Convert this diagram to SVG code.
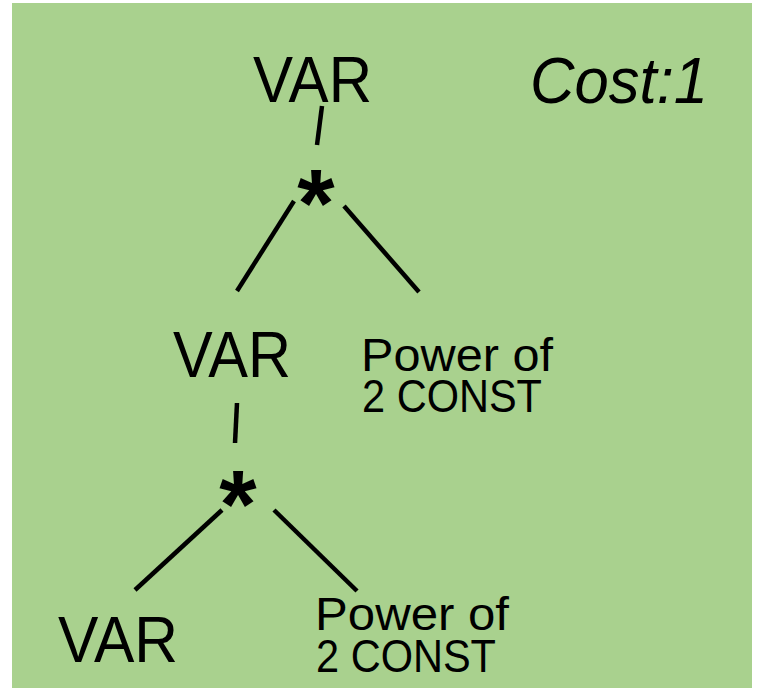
<svg xmlns="http://www.w3.org/2000/svg" width="757" height="689" viewBox="0 0 757 689">
<style>
.t{font-family:"Liberation Sans",Arial,sans-serif;fill:#000}
.var{font-size:65px}
.op{font-size:96px;font-weight:bold}
.pc{font-size:46px}
.cost{font-size:64px;font-style:italic}
.c line{stroke:#000;stroke-width:4.5;stroke-linecap:butt}
</style>
<rect x="12" y="3" width="740" height="685" fill="#A9D18E"/>
<g id="connectors" class="c">
<line x1="322" y1="106" x2="317" y2="145"/>
<line x1="294" y1="201" x2="237" y2="291"/>
<line x1="344" y1="206" x2="419" y2="292"/>
<line x1="237" y1="403" x2="235" y2="443"/>
<line x1="222" y1="510" x2="135" y2="590"/>
<line x1="274" y1="510" x2="357" y2="591"/>
</g>
<g id="var-top"><text class="t var" x="253" y="102" textLength="119" lengthAdjust="spacingAndGlyphs">VAR</text></g>
<g id="mul-top"><text class="t op" x="316" y="236" text-anchor="middle">*</text></g>
<g id="var-mid"><text class="t var" x="173" y="377" textLength="118" lengthAdjust="spacingAndGlyphs">VAR</text></g>
<g id="const-mid"><text class="t pc"><tspan x="361" y="371" textLength="192" lengthAdjust="spacingAndGlyphs">Power of</tspan><tspan x="362" y="412" textLength="180" lengthAdjust="spacingAndGlyphs">2 CONST</tspan></text></g>
<g id="mul-bot"><text class="t op" x="238" y="537" text-anchor="middle">*</text></g>
<g id="var-bot"><text class="t var" x="58" y="662" textLength="120" lengthAdjust="spacingAndGlyphs">VAR</text></g>
<g id="const-bot"><text class="t pc"><tspan x="315" y="630" textLength="194" lengthAdjust="spacingAndGlyphs">Power of</tspan><tspan x="316" y="672" textLength="180" lengthAdjust="spacingAndGlyphs">2 CONST</tspan></text></g>
<g id="cost"><text class="t cost" x="530" y="103" textLength="178" lengthAdjust="spacingAndGlyphs">Cost:1</text></g>
</svg>
